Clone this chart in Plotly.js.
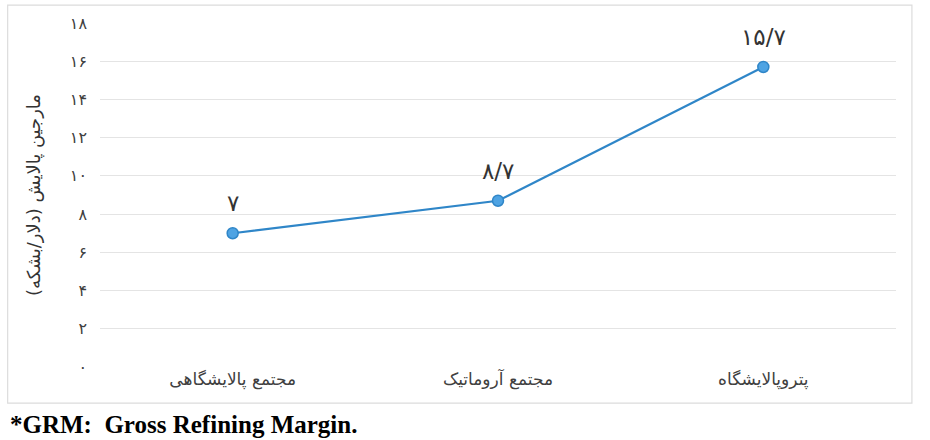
<!DOCTYPE html>
<html>
<head>
<meta charset="utf-8">
<script src="https://cdn.plot.ly/plotly-3.0.1.min.js"></script>
<style>html,body{margin:0;padding:0;background:#fff;}#chart{width:930px;height:440px;}</style>
</head>
<body>
<div id="chart"></div>
<script>
const categories = ["مجتمع پالایشگاهی", "مجتمع آروماتیک", "پتروپالایشگاه"];
const values = [7, 8.7, 15.7];
const valueLabels = ["۷", "۸/۷", "۱۵/۷"];
const tickVals = [0, 2, 4, 6, 8, 10, 12, 14, 16, 18];
const tickText = ["۰", "۲", "۴", "۶", "۸", "۱۰", "۱۲", "۱۴", "۱۶", "۱۸"];
const yTitle = "مارجین پالایش (دلار/بشکه)";
const footnote = "*GRM:  Gross Refining Margin.";

const arabicFont = "DejaVu Sans, Noto Sans, sans-serif";

const trace = {
  x: categories,
  y: values,
  type: "scatter",
  mode: "lines+markers",
  line: {color: "#2f86c8", width: 2.2},
  marker: {color: "#4ea3e3", size: 11, line: {color: "#2f86c8", width: 1.5}},
  hoverinfo: "none"
};

const annotations = categories.map((c, i) => ({
  x: c, y: values[i], xref: "x", yref: "y",
  text: valueLabels[i], showarrow: false, yshift: 30,
  font: {family: arabicFont, size: 23, color: "#333"}
}));
annotations.push({
  xref: "paper", yref: "paper", x: -0.115, y: -0.166, xanchor: "left", yanchor: "middle",
  text: "<b>" + footnote + "</b>", showarrow: false,
  font: {family: "Liberation Serif, Times New Roman, serif", size: 25, color: "#000"}
});

const layout = {
  width: 930, height: 440,
  margin: {l: 100, r: 34, t: 23, b: 73},
  paper_bgcolor: "#fff", plot_bgcolor: "#fff",
  showlegend: false,
  xaxis: {
    type: "category", showgrid: false, zeroline: false, showline: false,
    ticks: "", range: [-0.5, 2.5],
    tickfont: {family: arabicFont, size: 17, color: "#404040"}
  },
  yaxis: {
    range: [0, 18], tickvals: tickVals, ticktext: tickText,
    showgrid: true, gridcolor: "#e4e4e4", gridwidth: 1,
    zeroline: false, showline: false, ticks: "", ticklen: 0,
    ticklabelstandoff: 12,
    tickfont: {family: arabicFont, size: 16, color: "#404040"},
    title: {text: yTitle, standoff: 24, font: {family: arabicFont, size: 18, color: "#333"}}
  },
  shapes: [{
    type: "rect", xref: "paper", yref: "paper",
    x0: -0.116, x1: 1.02, y0: -0.105, y1: 1.052,
    line: {color: "#dcdcdc", width: 1.2}, fillcolor: "rgba(0,0,0,0)", layer: "below"
  }],
  annotations: annotations
};

Plotly.newPlot("chart", [trace], layout, {displayModeBar: false, staticPlot: true});
</script>
</body>
</html>
